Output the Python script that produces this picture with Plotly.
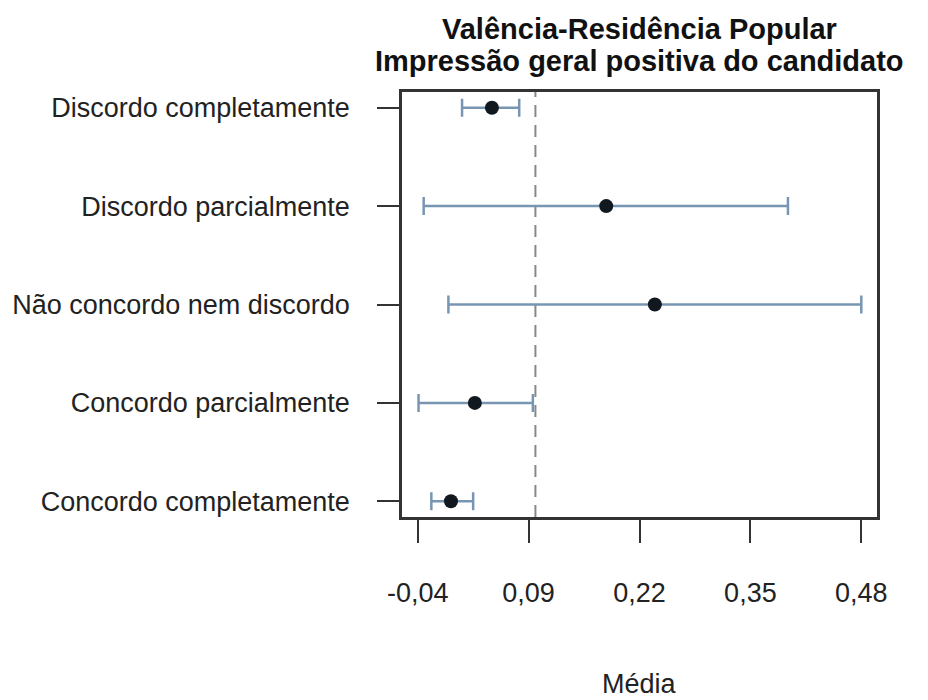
import plotly.graph_objects as go

# Categorias de resposta (de cima para baixo)
categorias = [
    "Discordo completamente",
    "Discordo parcialmente",
    "Não concordo nem discordo",
    "Concordo parcialmente",
    "Concordo completamente",
]
# Média e limites do intervalo de confiança por categoria
medias = [0.047, 0.181, 0.238, 0.027, -0.001]
limite_inferior = [0.012, -0.033, -0.004, -0.039, -0.024]
limite_superior = [0.079, 0.394, 0.480, 0.095, 0.025]

# Média geral (linha de referência tracejada)
media_geral = 0.098

# Marcas do eixo x
ticks_x = [-0.04, 0.09, 0.22, 0.35, 0.48]
rotulos_x = ["-0,04", "0,09", "0,22", "0,35", "0,48"]

FONTE = "Liberation Sans, Arial, Helvetica, sans-serif"
COR_TEXTO = "#222222"
COR_EIXO = "#333333"
COR_BARRA = "#7896b3"

erro_mais = [s - m for s, m in zip(limite_superior, medias)]
erro_menos = [m - i for m, i in zip(medias, limite_inferior)]

fig = go.Figure()

fig.add_trace(
    go.Scatter(
        x=medias,
        y=categorias,
        mode="markers",
        marker=dict(color="#111820", size=14),
        error_x=dict(
            type="data",
            symmetric=False,
            array=erro_mais,
            arrayminus=erro_menos,
            color=COR_BARRA,
            thickness=2.5,
            width=9,
        ),
        showlegend=False,
        hoverinfo="skip",
    )
)

# Linha vertical tracejada na média geral
fig.add_shape(
    type="line",
    xref="x",
    yref="paper",
    x0=media_geral,
    x1=media_geral,
    y0=0,
    y1=1,
    line=dict(color="#888888", width=2, dash="12px,8px"),
    layer="below",
)

fig.update_layout(
    width=928,
    height=700,
    autosize=False,
    margin=dict(l=402, r=51, t=92, b=183),
    plot_bgcolor="white",
    paper_bgcolor="white",
    font=dict(family=FONTE, color=COR_TEXTO, size=27),
)

fig.update_xaxes(
    range=[-0.0584, 0.4984],
    tickvals=ticks_x,
    ticktext=rotulos_x,
    ticks="outside",
    ticklen=23,
    tickwidth=2,
    tickcolor=COR_EIXO,
    ticklabelstandoff=27,
    showgrid=False,
    zeroline=False,
    showline=True,
    mirror=True,
    linecolor=COR_EIXO,
    linewidth=2.5,
    tickfont=dict(size=27, color=COR_TEXTO),
)

fig.update_yaxes(
    type="category",
    categoryorder="array",
    categoryarray=list(reversed(categorias)),
    range=[-0.16, 4.16],
    ticks="outside",
    ticklen=22,
    tickwidth=2,
    tickcolor=COR_EIXO,
    ticklabelstandoff=22,
    showgrid=False,
    zeroline=False,
    showline=True,
    mirror=True,
    linecolor=COR_EIXO,
    linewidth=2.5,
    tickfont=dict(size=27, color=COR_TEXTO),
)

# Título em duas linhas
fig.add_annotation(
    text="<b>Valência-Residência Popular</b>",
    xref="paper", yref="paper",
    x=0.5, y=1 + 63 / 425.6,
    xanchor="center", yanchor="middle",
    showarrow=False,
    font=dict(size=29, color="#111111", family=FONTE),
)
fig.add_annotation(
    text="<b>Impressão geral positiva do candidato</b>",
    xref="paper", yref="paper",
    x=0.5, y=1 + 31 / 425.6,
    xanchor="center", yanchor="middle",
    showarrow=False,
    font=dict(size=29, color="#111111", family=FONTE),
)

# Rótulo do eixo x
fig.add_annotation(
    text="Média",
    xref="paper", yref="paper",
    x=0.5, y=-(685 - 517.3) / 425.6,
    xanchor="center", yanchor="middle",
    showarrow=False,
    font=dict(size=27, color=COR_TEXTO, family=FONTE),
)

fig.write_html("out.html")
